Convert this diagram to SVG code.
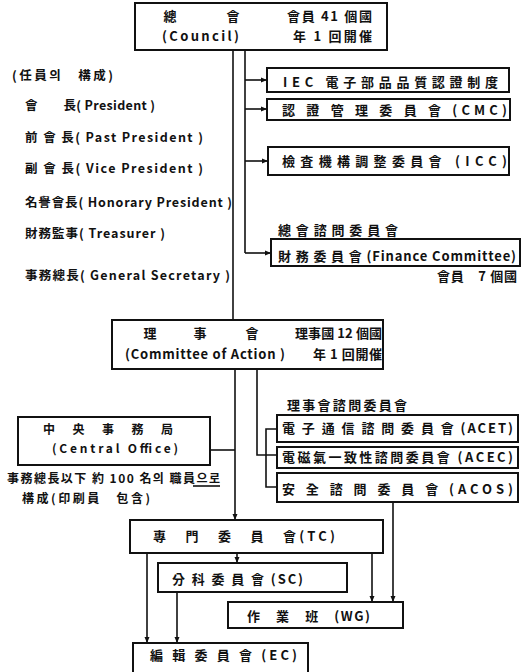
<svg xmlns="http://www.w3.org/2000/svg" width="522" height="672" viewBox="0 0 522 672">
<style>
.b{fill:#fff;stroke:#111;stroke-width:2}
.l{fill:none;stroke:#111;stroke-width:1.6}
text{font-family:"Noto Sans CJK KR","Noto Sans CJK JP",sans-serif;font-weight:700;font-size:13px;fill:#111}
.s{font-size:12.5px}
.m{font-size:12px}
</style>
<defs>
<marker id="a" markerWidth="7" markerHeight="6" refX="6" refY="3" orient="auto" markerUnits="userSpaceOnUse"><path d="M0,0.5 L6,3 L0,5.5 Z" fill="#111"/></marker>
</defs>
<rect width="522" height="672" fill="#fff"/>

<g id="connectors">
<path class="l" d="M233 50 V320"/>
<path class="l" d="M245 50 V253"/>
<path class="l" d="M245 80 H267" marker-end="url(#a)"/>
<path class="l" d="M245 109 H267" marker-end="url(#a)"/>
<path class="l" d="M245 161 H268" marker-end="url(#a)"/>
<path class="l" d="M245 253 H271" marker-end="url(#a)"/>
<path class="l" d="M235 369 V520" marker-end="url(#a)"/>
<path class="l" d="M210 450 H235"/>
<path class="l" d="M257 369 V455 H277"/>
<path class="l" d="M277 429 H266 V487 H277"/>
<path class="l" d="M393 502 V602" marker-end="url(#a)"/>
<path class="l" d="M147 553 V643" marker-end="url(#a)"/>
<path class="l" d="M177 592 V643" marker-end="url(#a)"/>
<path class="l" d="M372 553 V602" marker-end="url(#a)"/>
<path class="l" d="M237 553 V563" marker-end="url(#a)"/>
</g>

<g id="council">
<rect class="b" x="135" y="3" width="252" height="47"/>
<text x="163.5" y="21">總</text>
<text x="226.5" y="21">會</text>
<text x="287" y="21" textLength="85">會員 41 個國</text>
<text x="162" y="41" textLength="77">(Council)</text>
<text x="293" y="41" textLength="79">年 1 回開催</text>
</g>

<g id="officers">
<text x="12" y="80" class="s" textLength="101">(任員의　構成)</text>
<text x="25" y="110" class="s" textLength="130">會　　長( President )</text>
<text x="25" y="142" class="s" textLength="178">前 會 長( Past President )</text>
<text x="25" y="173" class="s" textLength="178">副 會 長( Vice President )</text>
<text x="25" y="207" class="s" textLength="207">名譽會長( Honorary President )</text>
<text x="25" y="238" class="s" textLength="140">財務監事( Treasurer )</text>
<text x="25" y="280" class="s" textLength="205">事務總長( General Secretary )</text>
</g>

<g id="iec">
<rect class="b" x="267" y="68" width="242" height="24"/>
<text x="283" y="87" textLength="215">IEC 電子部品品質認證制度</text>
</g>
<g id="cmc">
<rect class="b" x="267" y="99" width="243" height="21"/>
<text x="282" y="115" textLength="225">認 證 管 理 委 員 會 (CMC)</text>
</g>
<g id="icc">
<rect class="b" x="268" y="147" width="241" height="28"/>
<text x="282" y="166" textLength="225">檢査機構調整委員會 (ICC)</text>
</g>
<g id="finance">
<text x="278" y="235" textLength="120">總會諮問委員會</text>
<rect class="b" x="271" y="239" width="249" height="27"/>
<text x="278" y="261" textLength="238">財 務 委 員 會 (Finance Committee)</text>
<text x="437" y="281" textLength="80">會員　7 個國</text>
</g>

<g id="committee-of-action">
<rect class="b" x="112" y="320" width="271" height="49"/>
<text x="143.5" y="338">理</text>
<text x="193.5" y="338">事</text>
<text x="245.5" y="338">會</text>
<text x="295" y="338" textLength="87">理事國 12 個國</text>
<text x="125" y="359" textLength="160">(Committee of Action )</text>
<text x="313" y="359" textLength="69">年 1 回開催</text>
</g>

<g id="central-office">
<rect class="b" x="18" y="417" width="192" height="48"/>
<text x="43" y="434" class="m" textLength="130">中 央 事 務 局</text>
<text x="52" y="453" class="m" textLength="126">(Central Office)</text>
<text x="7" y="483" class="m" textLength="213">事務總長以下 約 100 名의 職員으로</text>
<path class="l" d="M193 486 H220" stroke-width="1"/>
<text x="22" y="503" class="m" textLength="128">構成(印刷員　包含)</text>
</g>

<g id="advisory">
<text x="287" y="410" textLength="120">理事會諮問委員會</text>
</g>
<g id="acet">
<rect class="b" x="277" y="415" width="241" height="27"/>
<text x="282" y="433" textLength="231">電 子 通 信 諮 問 委 員 會 (ACET)</text>
</g>
<g id="acec">
<rect class="b" x="277" y="447" width="241" height="21"/>
<text x="282" y="462" textLength="231">電磁氣一致性諮問委員會 (ACEC)</text>
</g>
<g id="acos">
<rect class="b" x="277" y="473" width="241" height="29"/>
<text x="282" y="494" textLength="231">安 全 諮 問 委 員 會 (ACOS)</text>
</g>

<g id="tc">
<rect class="b" x="130" y="520" width="253" height="33"/>
<text x="153" y="541" textLength="182">專　門　委　員　會(TC)</text>
</g>
<g id="sc">
<rect class="b" x="158" y="563" width="189" height="29"/>
<text x="172" y="584" textLength="131">分 科 委 員 會 (SC)</text>
</g>
<g id="wg">
<rect class="b" x="228" y="602" width="175" height="26"/>
<text x="247" y="621" textLength="123">作　業　班　(WG)</text>
</g>
<g id="ec">
<rect class="b" x="133" y="643" width="175" height="40"/>
<text x="150" y="660" textLength="147">編 輯 委 員 會 (EC)</text>
</g>
</svg>
